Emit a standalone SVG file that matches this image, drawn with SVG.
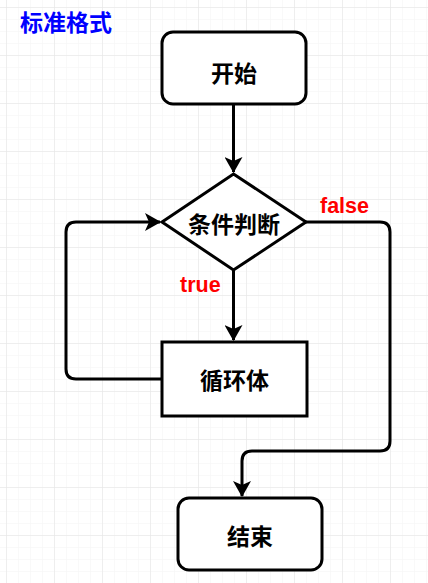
<svg xmlns="http://www.w3.org/2000/svg" width="428" height="583" viewBox="0 0 428 583">
<style>
.node{fill:#fff;stroke:#000;stroke-width:3}
.lbl{font-family:"Noto Sans CJK SC","Liberation Sans",sans-serif;font-weight:bold;font-size:23px;fill:#000;text-anchor:middle;dominant-baseline:central}
.edge{fill:none;stroke:#000;stroke-width:3;stroke-linejoin:round}
.elbl{font-family:"Liberation Sans",Arial,sans-serif;font-weight:bold;font-size:21.5px;fill:#f00}
</style>
<defs>
<pattern id="minor" width="12" height="12" patternUnits="userSpaceOnUse" x="6" y="7">
<path d="M0 0H12M0 0V12" fill="none" stroke="#f4f4f4" stroke-width="1"/>
</pattern>
<pattern id="major" width="48" height="48" patternUnits="userSpaceOnUse" x="6" y="7">
<path d="M0 0H48M0 0V48" fill="none" stroke="#e4e4e4" stroke-width="1"/>
</pattern>
<marker id="arr" viewBox="0 0 16 18" refX="15" refY="9" markerWidth="16" markerHeight="18" markerUnits="userSpaceOnUse" orient="auto">
<path d="M0 0L16 9L0 18L4 9Z" fill="#000"/>
</marker>
</defs>
<rect width="428" height="583" fill="#fff"/>
<rect width="428" height="583" fill="url(#minor)"/>
<rect width="428" height="583" fill="url(#major)"/>

<text x="20" y="21" font-family="Noto Sans CJK SC,sans-serif" font-weight="bold" font-size="23" fill="#00f" dominant-baseline="central">标准格式</text>

<g id="connectors">
<path class="edge" d="M233.5 104V172" marker-end="url(#arr)"/>
<path class="edge" d="M233.5 270V340" marker-end="url(#arr)"/>
<path class="edge" d="M162 379H76Q66 379 66 369V232Q66 222 76 222H160" marker-end="url(#arr)"/>
<path class="edge" d="M306 222H380Q390 222 390 232V441Q390 451 380 451H252Q242 451 242 461V496" marker-end="url(#arr)"/>
<text class="elbl" x="320" y="213">false</text>
<text class="elbl" x="180" y="292">true</text>
</g>

<g id="start">
<rect class="node" x="162" y="32" width="144" height="72" rx="11"/>
<text class="lbl" x="234" y="72">开始</text>
</g>
<g id="cond">
<path class="node" d="M233.5 174L306 222L233.5 270L162 222Z"/>
<text class="lbl" x="234" y="223">条件判断</text>
</g>
<g id="body">
<rect class="node" x="162" y="342" width="145" height="74"/>
<text class="lbl" x="234.5" y="379">循环体</text>
</g>
<g id="end">
<rect class="node" x="178" y="498" width="144" height="72" rx="11"/>
<text class="lbl" x="250" y="535">结束</text>
</g>
</svg>
